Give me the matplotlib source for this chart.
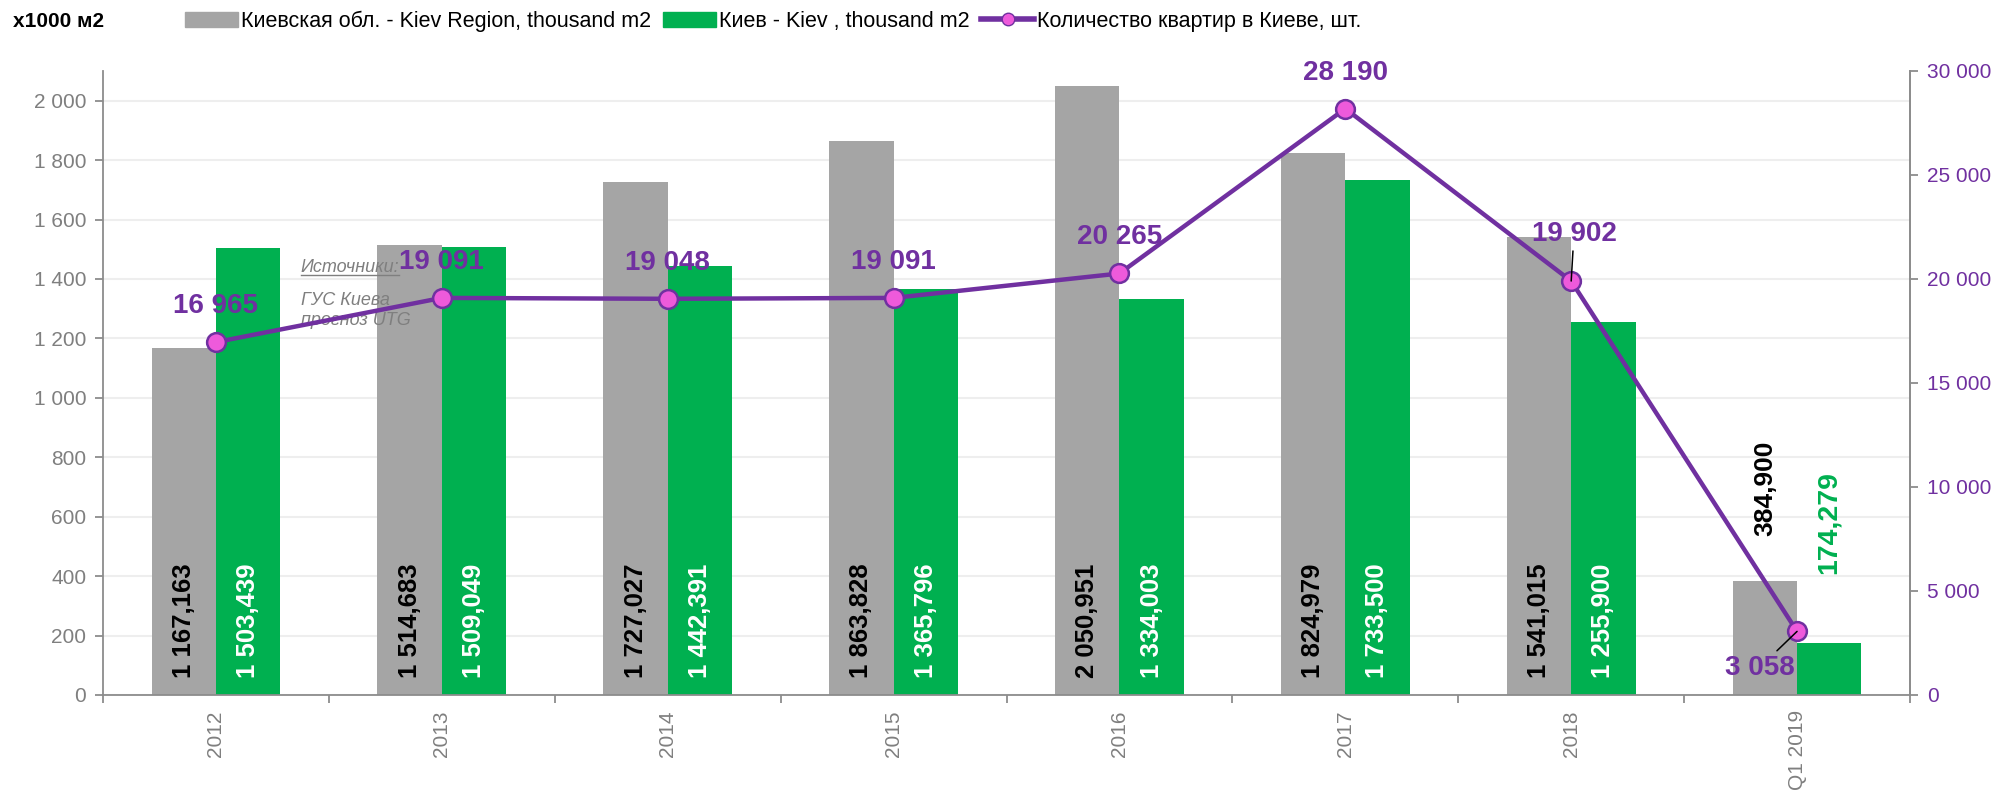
import numpy as np
import matplotlib.pyplot as plt
from matplotlib.patches import Patch
from matplotlib.lines import Line2D

plt.rcParams['font.family'] = ['Liberation Sans', 'DejaVu Sans']

# --- données ---
years = ["2012", "2013", "2014", "2015", "2016", "2017", "2018", "Q1 2019"]
region_m2 = [1167.163, 1514.683, 1727.027, 1863.828, 2050.951, 1824.979, 1541.015, 384.900]
kiev_m2 = [1503.439, 1509.049, 1442.391, 1365.796, 1334.003, 1733.500, 1255.900, 174.279]
flats_kiev = [16965, 19091, 19048, 19091, 20265, 28190, 19902, 3058]

GREY = '#A5A5A5'
GREEN = '#00B050'
PURPLE = '#7030A0'
PINK = '#EE5ADB'
AXGREY = '#8C8C8C'
TXTGREY = '#7F7F7F'


def fmt_m2(v):
    # 1 167,163
    s = f"{v:,.3f}".replace(",", " ").replace(".", ",")
    return s


def fmt_int(v):
    return f"{int(v):,}".replace(",", " ")


fig = plt.figure(figsize=(19.95, 7.92), dpi=100)
ax = fig.add_axes([103 / 1995, 1 - 695 / 792, (1910 - 103) / 1995, (695 - 71) / 792])

x = np.arange(len(years))
w = 0.285
b1 = ax.bar(x - w / 2, region_m2, w, color=GREY, lw=0, zorder=2)
b2 = ax.bar(x + w / 2, kiev_m2, w, color=GREEN, lw=0, zorder=2)

ax.set_xlim(-0.5, len(years) - 0.5)
ax.set_ylim(0, 2100)
ax.set_yticks(np.arange(0, 2001, 200))
ax.set_yticklabels([fmt_int(v) for v in np.arange(0, 2001, 200)])
ax.yaxis.grid(True, color='#EEEEEE', lw=1.5, zorder=0)
ax.set_axisbelow(True)

ax.set_xticks(x)
ax.set_xticklabels(years, rotation=90)
ax.set_xticks(np.arange(-0.5, len(years)), minor=True)
ax.tick_params(axis='x', which='major', length=0, pad=11, labelsize=15, labelcolor=TXTGREY)
ax.tick_params(axis='x', which='minor', length=6, width=1.3, color=AXGREY, direction='out')
ax.tick_params(axis='y', length=6, width=1.3, color=AXGREY, labelsize=15, labelcolor=TXTGREY, pad=6)

for s in ['left', 'bottom', 'right']:
    ax.spines[s].set_color(AXGREY)
    ax.spines[s].set_linewidth(1.3)
ax.spines['top'].set_visible(False)

# étiquettes dans les barres
n = len(years)
for i in range(n - 1):
    ax.annotate(fmt_m2(region_m2[i]), (x[i] - w / 2, 0), xytext=(0, 12), textcoords='offset points',
                rotation=90, ha='center', va='bottom', fontsize=18.5, fontweight='bold', color='black')
    ax.annotate(fmt_m2(kiev_m2[i]), (x[i] + w / 2, 0), xytext=(0, 12), textcoords='offset points',
                rotation=90, ha='center', va='bottom', fontsize=18.5, fontweight='bold', color='white')
# dernier trimestre : étiquettes au-dessus
ax.annotate(f"{region_m2[-1]:.3f}".replace(".", ","), (x[-1] - w / 2, region_m2[-1]), xytext=(0, 32),
            textcoords='offset points', rotation=90, ha='center', va='bottom',
            fontsize=19, fontweight='bold', color='black')
ax.annotate(f"{kiev_m2[-1]:.3f}".replace(".", ","), (x[-1] + w / 2, kiev_m2[-1]), xytext=(0, 50),
            textcoords='offset points', rotation=90, ha='center', va='bottom',
            fontsize=20.5, fontweight='bold', color=GREEN)

# axe de droite : nombre d'appartements
ax2 = ax.twinx()
ax2.set_ylim(0, 30000)
ax2.set_yticks(np.arange(0, 30001, 5000))
ax2.set_yticklabels([fmt_int(v) for v in np.arange(0, 30001, 5000)])
ax2.tick_params(axis='y', length=6, width=1.3, color=AXGREY, labelsize=15, labelcolor=PURPLE, pad=6)
for s in ['left', 'bottom', 'top']:
    ax2.spines[s].set_visible(False)
ax2.spines['right'].set_color(AXGREY)
ax2.spines['right'].set_linewidth(1.3)

ax2.plot(x, flats_kiev, color=PURPLE, lw=3.2, marker='o', markersize=13.5,
         markerfacecolor=PINK, markeredgecolor=PURPLE, markeredgewidth=1.8, zorder=5)

lbl_offsets = {6: (2, 34), 7: (-27, -26)}
for i, v in enumerate(flats_kiev):
    dx, dy = lbl_offsets.get(i, (0, 26))
    arrow = None
    if i in lbl_offsets:
        arrow = dict(arrowstyle='-', color='black', lw=1.1, shrinkA=1, shrinkB=0)
    ax2.annotate(fmt_int(v), (x[i], v), xytext=(dx, dy), textcoords='offset points',
                 ha='center', va='center', fontsize=20, fontweight='bold', color=PURPLE,
                 arrowprops=arrow, zorder=6)

# sources
src1 = ax.text(0.376, 1438, "Источники:", fontsize=13, style='italic', color=TXTGREY,
               ha='left', va='center', zorder=3)
src2 = ax.text(0.376, 1357, "ГУС Киева\nпрогноз UTG", fontsize=13, style='italic', color=TXTGREY,
               ha='left', va='top', linespacing=1.27, zorder=3)
fig.canvas.draw()
bb = src1.get_window_extent(fig.canvas.get_renderer()).transformed(fig.transFigure.inverted())
fig.add_artist(Line2D([bb.x0, bb.x1], [bb.y0 + 0.002, bb.y0 + 0.002], color=TXTGREY, lw=1))

# légende
fig.text(13 / 1995, 0.973, "x1000 м2", fontsize=15, fontweight='bold', ha='left', va='center')
handles = [Patch(color=GREY), Patch(color=GREEN),
           Line2D([], [], color=PURPLE, lw=4, marker='o', markersize=9,
                  markerfacecolor=PINK, markeredgecolor=PURPLE)]
labels = ["Киевская обл. - Kiev Region, thousand m2", "Киев - Kiev , thousand m2",
          "Количество квартир в Киеве, шт."]
fig.legend(handles, labels, loc='center left', bbox_to_anchor=(185 / 1995, 0.973), ncol=3,
           frameon=False, fontsize=15.5, handlelength=2.45, handleheight=0.7, handletextpad=0.15,
           columnspacing=0.55, borderpad=0, borderaxespad=0)

fig.savefig("out.png", dpi=100)
